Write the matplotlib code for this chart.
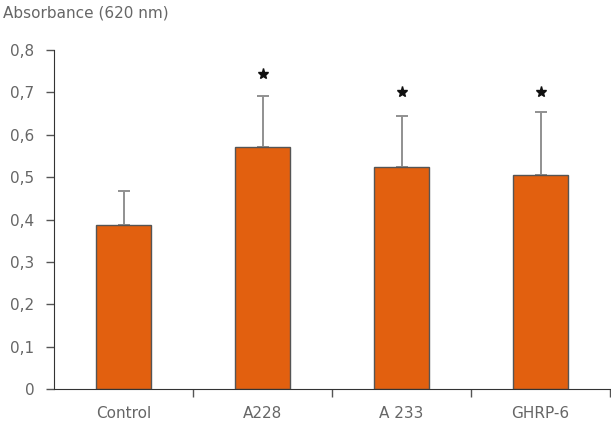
import numpy as np
import matplotlib
matplotlib.use('Agg')
import matplotlib.pyplot as plt

categories = ['Control', 'A228', 'A 233', 'GHRP-6']
absorbance = [0.388, 0.571, 0.523, 0.505]
err_up = [0.080, 0.120, 0.122, 0.148]
star_y = [None, 0.743, 0.700, 0.700]
yticks = [0, 0.1, 0.2, 0.3, 0.4, 0.5, 0.6, 0.7, 0.8]
ytick_labels = ['0', '0,1', '0,2', '0,3', '0,4', '0,5', '0,6', '0,7', '0,8']

plt.rcParams['font.family'] = ['DejaVu Sans']
txt = '#666666'
fs = 11

fig = plt.figure(figsize=(6.11, 4.21), dpi=100)
ax = fig.add_axes([0.0884, 0.076, 0.910, 0.805])

x = np.arange(len(categories))
ax.bar(x, absorbance, width=0.4, color='#E2600F', edgecolor='#555555', linewidth=1.0, zorder=2)
ax.errorbar(x, absorbance, yerr=[np.zeros(len(x)), err_up], fmt='none',
            ecolor='#909090', elinewidth=1.4, capsize=4, capthick=1.4, zorder=1)

for xi, sy in zip(x, star_y):
    if sy is not None:
        ax.plot(xi, sy, marker='*', color='#111111', markersize=8, zorder=3)

ax.set_xlim(-0.5, 3.5)
ax.set_ylim(0, 0.8)
ax.set_yticks(yticks)
ax.set_yticklabels(ytick_labels)
ax.set_xticks(x)
ax.set_xticklabels(categories)
ax.set_xticks([0.5, 1.5, 2.5, 3.5], minor=True)
ax.tick_params(axis='x', which='major', length=0, pad=12, labelsize=fs, labelcolor=txt)
ax.tick_params(axis='x', which='minor', length=6, width=1, color='#555555', direction='out')
ax.tick_params(axis='y', length=6, width=1, color='#555555', labelsize=fs, labelcolor=txt, pad=8)

for s in ['top', 'right']:
    ax.spines[s].set_visible(False)
ax.spines['left'].set_color('#333333')
ax.spines['bottom'].set_color('#333333')

fig.text(0.005, 0.968, 'Absorbance (620 nm)', fontsize=fs, color=txt, va='center', ha='left')

fig.savefig('out.png', dpi=100)
